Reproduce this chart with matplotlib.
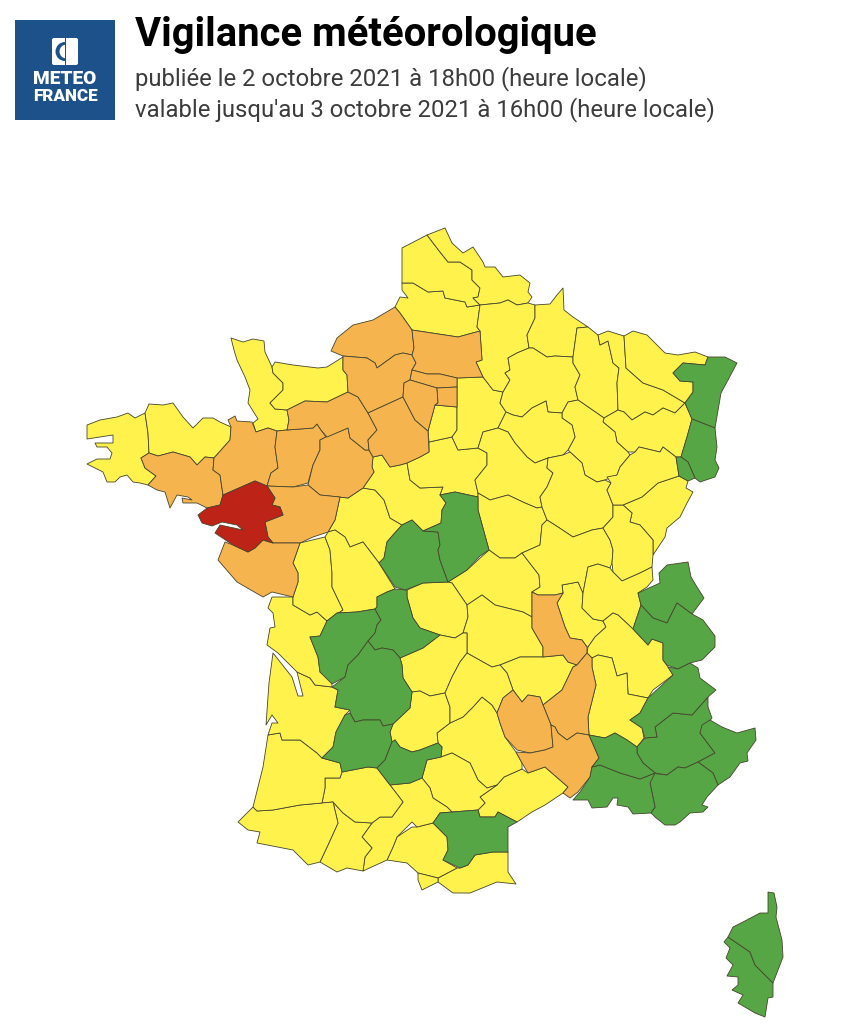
import matplotlib
matplotlib.use("Agg")
import matplotlib.pyplot as plt
from matplotlib.patches import Polygon, Rectangle, FancyBboxPatch, Wedge, Circle

# ---- text ----
TITLE = "Vigilance météorologique"
LINE1 = "publiée le 2 octobre 2021 à 18h00 (heure locale)"
LINE2 = "valable jusqu'au 3 octobre 2021 à 16h00 (heure locale)"
LOGO1 = "METEO"
LOGO2 = "FRANCE"

# ---- vigilance levels ----
LEVEL_COLOURS = {"vert": "#56A646", "jaune": "#FFF24D", "orange": "#F6B44F", "rouge": "#BE2318"}

# ---- department outlines (map coordinates) ----
d29 = [(87,425),(100,420),(117,417),(128,413),(135,418),(145,413),(148,433),(149,453),(141,458),(145,468),(156,476),(148,485),(140,483),(133,482),(127,475),(120,477),(115,482),(107,482),(103,472),(87,464),(97,459),(110,459),(112,453),(107,447),(97,447),(95,443),(113,443),(113,435),(87,439)]
d22 = [(145,413),(149,404),(163,405),(173,403),(183,417),(193,428),(203,418),(213,418),(220,422),(231,427),(230,440),(214,458),(205,457),(197,465),(190,457),(173,452),(158,456),(149,453),(148,433)]
d56 = [(141,458),(149,453),(158,456),(173,452),(190,457),(197,465),(205,457),(214,458),(213,470),(220,475),(223,495),(220,505),(207,508),(197,503),(183,503),(182,498),(192,500),(188,497),(177,495),(170,508),(165,492),(157,490),(148,485),(156,476),(145,468)]
d35 = [(214,458),(230,440),(231,427),(228,420),(235,416),(237,421),(252,422),(256,432),(268,428),(277,431),(275,447),(278,468),(271,473),(267,486),(255,481),(223,495),(220,475),(213,470)]
d50 = [(231,338),(243,342),(253,339),(264,341),(265,352),(272,367),(273,373),(283,383),(283,390),(270,403),(275,409),(287,410),(289,420),(287,430),(277,431),(268,428),(256,432),(253,423),(258,419),(248,403),(250,390),(245,377),(237,360),(234,350)]
d14 = [(272,367),(275,362),(293,365),(318,368),(327,367),(343,357),(343,370),(347,375),(348,392),(327,402),(305,401),(287,410),(275,409),(270,403),(283,390),(283,383),(273,373)]
d61 = [(287,410),(305,401),(327,402),(348,392),(358,397),(368,413),(377,430),(368,440),(369,450),(365,450),(350,438),(348,428),(327,437),(321,430),(317,424),(313,428),(287,430),(289,420)]
d53 = [(277,431),(287,430),(313,428),(317,424),(321,430),(326,437),(320,440),(320,450),(313,465),(308,483),(293,487),(267,486),(271,473),(278,468),(275,447)]
d72 = [(326,437),(348,428),(350,438),(365,450),(369,450),(373,457),(372,467),(374,472),(363,488),(348,498),(320,495),(308,485),(313,465),(320,450),(320,440)]
d44 = [(198,515),(207,508),(220,505),(223,495),(255,481),(267,486),(275,498),(272,505),(280,507),(283,515),(265,522),(268,537),(273,543),(263,540),(255,548),(248,552),(233,545),(215,533),(220,525),(243,530),(237,525),(222,522),(212,526),(202,523)]
d49 = [(267,486),(293,487),(308,485),(320,495),(340,497),(335,520),(328,532),(313,537),(300,543),(273,543),(268,537),(265,522),(283,515),(280,507),(272,505),(275,498)]
d37 = [(340,497),(348,498),(363,488),(375,490),(384,500),(390,518),(402,525),(393,535),(387,542),(384,558),(379,563),(363,542),(350,547),(345,537),(335,530),(328,532),(335,520)]
d41 = [(373,457),(382,455),(390,467),(400,465),(407,463),(410,480),(420,488),(443,487),(440,495),(446,503),(442,510),(441,523),(423,531),(412,520),(402,525),(390,518),(384,500),(375,490),(363,488),(374,472),(372,467)]
d28 = [(373,457),(369,450),(368,440),(377,430),(368,413),(403,397),(415,420),(428,431),(429,452),(420,457),(407,463),(400,465),(390,467),(382,455)]
d36 = [(402,525),(412,520),(423,531),(438,532),(440,545),(438,550),(440,560),(448,582),(423,583),(405,590),(395,587),(379,563),(384,558),(387,542),(393,535)]
d18 = [(440,495),(455,492),(478,497),(478,510),(489,550),(480,556),(467,570),(448,582),(440,560),(438,550),(440,545),(438,532),(423,531),(441,523),(442,510),(446,503)]
d45 = [(407,463),(420,457),(429,452),(429,442),(452,437),(458,450),(478,448),(487,453),(487,465),(475,480),(478,493),(478,497),(455,492),(440,495),(443,487),(420,488),(410,480)]
d91 = [(428,431),(435,405),(457,407),(457,430),(452,437),(429,442)]
d77 = [(457,378),(483,377),(493,390),(503,392),(500,403),(506,412),(498,428),(483,432),(478,448),(458,450),(452,437),(457,430),(457,407),(457,387)]
d60 = [(412,330),(458,337),(480,331),(482,360),(476,362),(483,377),(457,378),(440,374),(427,374),(412,370),(416,363),(412,355),(414,348)]
d95 = [(412,370),(410,380),(437,388),(457,387),(457,378),(440,374),(427,374)]
d78 = [(404,383),(410,380),(437,388),(438,403),(435,405),(428,431),(415,420),(403,397)]
d75 = [(437,388),(457,387),(457,407),(435,405),(438,403)]
d27 = [(343,356),(367,358),(375,363),(377,368),(395,355),(403,353),(412,355),(416,363),(412,370),(410,380),(404,383),(403,397),(368,413),(358,397),(348,392),(347,375),(343,370)]
d76 = [(331,351),(337,338),(353,325),(373,320),(395,307),(400,313),(412,330),(414,348),(412,355),(403,353),(395,355),(377,368),(375,363),(367,358),(343,356)]
d80 = [(402,283),(413,283),(428,292),(443,291),(445,298),(465,302),(467,307),(480,305),(477,327),(480,331),(458,337),(412,330),(400,313),(395,307),(400,297),(408,298),(402,290)]
d62 = [(402,248),(427,235),(440,252),(448,262),(460,262),(472,270),(472,280),(480,288),(478,297),(473,298),(480,305),(467,307),(465,302),(445,298),(443,291),(428,292),(413,283),(402,283)]
d59 = [(427,235),(445,228),(452,243),(463,253),(473,247),(483,262),(485,267),(495,267),(503,277),(520,275),(530,283),(528,292),(532,297),(528,303),(517,305),(508,300),(500,303),(480,305),(473,298),(478,297),(480,288),(472,280),(472,270),(460,262),(448,262),(440,252)]
d02 = [(480,305),(500,303),(508,300),(517,305),(528,303),(535,305),(535,318),(527,335),(529,348),(517,353),(508,358),(510,370),(505,373),(510,380),(503,392),(493,390),(483,377),(476,362),(482,360),(480,331),(477,327)]
d08 = [(535,305),(550,304),(557,295),(563,288),(564,310),(573,317),(588,327),(577,328),(573,357),(555,356),(547,357),(533,348),(529,348),(527,335),(535,318)]
d51 = [(529,348),(533,348),(547,357),(555,356),(573,357),(573,363),(580,375),(575,387),(578,400),(568,402),(562,413),(548,412),(546,401),(532,408),(522,417),(513,415),(506,412),(500,403),(503,392),(510,380),(505,373),(510,370),(508,358),(517,353)]
d55 = [(577,328),(588,327),(598,335),(600,345),(608,341),(613,363),(619,368),(617,383),(618,410),(604,418),(578,400),(575,387),(580,375),(573,363),(573,357)]
d54 = [(598,335),(608,331),(624,336),(626,368),(643,383),(663,390),(685,403),(675,413),(663,408),(653,415),(645,412),(632,420),(624,412),(618,410),(617,383),(619,368),(613,363),(608,341),(600,345)]
d57 = [(624,336),(633,331),(647,335),(665,353),(678,355),(695,352),(708,357),(705,365),(683,363),(673,373),(680,381),(693,382),(693,392),(685,403),(663,390),(643,383),(626,368)]
d67 = [(708,357),(725,357),(737,363),(728,380),(721,393),(715,428),(692,419),(685,403),(693,392),(693,382),(680,381),(673,373),(683,363),(705,365)]
d68 = [(692,419),(715,428),(717,447),(715,460),(719,468),(715,477),(700,482),(695,478),(688,462),(681,457),(687,437)]
d90 = [(676,457),(681,457),(688,462),(695,478),(688,481),(679,476)]
d88 = [(604,418),(618,410),(624,412),(632,420),(645,412),(653,415),(663,408),(675,413),(685,403),(692,419),(687,437),(681,457),(676,457),(663,447),(660,452),(639,447),(635,452),(628,452),(617,442),(615,432),(603,422)]
d52 = [(578,400),(604,418),(603,422),(615,432),(617,442),(628,452),(630,455),(620,467),(617,475),(605,480),(597,482),(585,475),(582,463),(570,452),(568,450),(575,437),(572,425),(562,418),(562,413),(568,402)]
d10 = [(506,412),(513,415),(522,417),(532,408),(546,401),(548,412),(562,413),(562,418),(572,425),(575,437),(568,450),(563,455),(548,458),(535,463),(527,457),(515,443),(508,432),(498,428)]
d89 = [(483,432),(498,428),(508,432),(515,443),(527,457),(535,463),(548,458),(547,468),(553,473),(547,487),(540,497),(542,507),(537,508),(525,503),(508,495),(490,500),(478,493),(475,480),(487,465),(487,453),(478,448)]
d58 = [(478,493),(490,500),(508,495),(525,503),(537,508),(542,507),(547,520),(542,525),(540,545),(522,553),(515,558),(500,558),(489,550),(478,510),(478,497)]
d03 = [(448,582),(467,570),(489,550),(500,558),(515,558),(522,553),(539,575),(540,587),(532,592),(532,617),(523,612),(507,608),(495,605),(482,595),(467,605),(452,583)]
d23 = [(407,590),(423,583),(448,582),(452,583),(467,605),(468,617),(463,633),(455,638),(440,635),(420,628),(413,618),(407,597)]
d63 = [(467,605),(482,595),(495,605),(507,608),(523,612),(532,617),(532,628),(543,647),(543,657),(520,657),(500,665),(492,667),(483,662),(467,653),(467,633),(463,633),(468,617)]
d42 = [(532,592),(538,595),(555,595),(563,593),(557,603),(565,627),(570,638),(582,640),(587,647),(587,653),(577,665),(568,662),(563,655),(543,657),(543,647),(532,628)]
d69 = [(562,585),(578,582),(583,593),(582,608),(593,619),(603,621),(606,627),(595,637),(588,647),(587,647),(582,640),(570,638),(565,627),(557,603),(563,593)]
d21 = [(548,458),(563,455),(570,452),(582,463),(585,475),(597,482),(605,480),(611,483),(607,490),(613,505),(613,517),(603,528),(592,530),(573,537),(558,527),(547,520),(542,507),(540,497),(547,487),(553,473),(547,468)]
d71 = [(542,525),(547,520),(558,527),(573,537),(592,530),(603,528),(610,540),(613,550),(612,563),(610,568),(598,564),(588,567),(583,593),(578,582),(562,585),(563,593),(555,595),(538,595),(532,592),(540,587),(539,575),(522,553),(540,545)]
d25 = [(623,505),(642,497),(658,483),(679,476),(688,481),(686,488),(693,492),(687,503),(680,517),(667,528),(665,537),(653,555),(653,540),(640,525),(630,522),(632,513)]
d39 = [(613,505),(623,505),(632,513),(630,522),(640,525),(653,540),(653,555),(652,567),(640,573),(622,581),(613,572),(612,563),(613,550),(610,540),(603,528),(613,517)]
d70 = [(607,477),(617,475),(620,467),(630,455),(635,452),(639,447),(660,452),(663,447),(676,457),(679,476),(658,483),(642,497),(623,505),(613,505),(607,490),(611,483)]
d01 = [(588,567),(598,564),(610,568),(613,572),(622,581),(640,573),(652,567),(653,580),(647,587),(638,593),(641,605),(633,629),(618,615),(613,613),(603,621),(593,619),(582,608),(583,593)]
d74 = [(638,593),(660,583),(659,573),(667,565),(688,562),(691,577),(697,587),(704,598),(692,614),(677,603),(667,623),(653,618),(641,605)]
d73 = [(641,605),(653,618),(667,623),(677,603),(692,614),(703,620),(715,636),(715,647),(702,660),(690,663),(678,669),(667,665),(663,660),(663,643),(652,639),(648,645),(633,629)]
d38 = [(588,647),(595,637),(606,627),(603,621),(613,613),(618,615),(633,629),(648,645),(652,639),(663,643),(663,660),(668,667),(673,675),(653,690),(648,698),(628,694),(627,673),(617,676),(612,658),(598,655),(592,658),(587,653)]
d26 = [(592,658),(598,655),(612,658),(617,676),(627,673),(628,694),(648,698),(640,713),(630,720),(642,728),(644,738),(637,747),(627,740),(615,733),(605,738),(589,735),(588,717),(596,685),(592,667)]
d07 = [(587,653),(592,658),(592,667),(596,685),(588,717),(589,735),(577,733),(567,740),(558,733),(555,727),(551,725),(543,705),(562,690),(573,667),(577,665)]
d43 = [(500,665),(520,657),(543,657),(563,655),(568,662),(577,665),(573,667),(562,690),(543,705),(540,697),(528,695),(522,702),(513,690),(507,673)]
d48 = [(497,713),(503,698),(513,690),(522,702),(528,695),(540,697),(543,705),(551,725),(553,747),(545,750),(530,753),(517,750),(505,737),(500,723)]
d30 = [(551,725),(555,727),(558,733),(567,740),(577,733),(589,735),(599,758),(592,767),(590,777),(578,792),(570,798),(563,793),(568,787),(545,767),(528,773),(522,763),(516,752),(530,753),(545,750),(553,747)]
d34 = [(480,797),(497,785),(504,777),(522,769),(528,773),(545,767),(568,787),(563,793),(545,805),(532,812),(517,822),(498,812),(495,817),(480,817),(478,810),(485,803)]
d12 = [(437,733),(450,723),(463,717),(473,707),(482,697),(492,705),(497,713),(500,723),(505,737),(516,752),(522,763),(522,769),(504,777),(497,785),(487,788),(478,780),(470,763),(452,753),(441,757),(442,747),(438,743)]
d81 = [(427,760),(441,757),(452,753),(470,763),(478,780),(487,788),(497,785),(480,797),(485,803),(478,810),(452,812),(447,807),(433,798),(430,788),(422,778)]
d11 = [(433,823),(440,813),(478,810),(480,817),(495,817),(498,812),(517,822),(508,827),(508,852),(493,852),(475,855),(468,865),(460,868),(443,860),(448,850),(447,837)]
d66 = [(438,878),(457,868),(460,868),(468,865),(475,855),(493,852),(508,852),(508,872),(516,884),(497,882),(470,893),(453,893),(438,882)]
d09 = [(387,860),(393,847),(397,837),(412,827),(417,827),(433,823),(447,837),(448,850),(443,860),(457,868),(438,878),(418,873),(407,863)]
dAD = [(418,873),(438,878),(438,882),(422,890),(418,880)]
d31 = [(390,785),(410,783),(422,778),(430,788),(433,798),(447,807),(452,812),(440,813),(433,823),(417,827),(412,822),(397,837),(393,847),(387,860),(363,871),(365,857),(372,848),(362,837),(372,823),(380,817),(392,817),(403,802)]
d65 = [(333,802),(343,813),(355,822),(372,823),(362,837),(372,848),(365,857),(363,871),(347,868),(337,872),(320,862),(328,845),(338,823)]
d32 = [(325,778),(340,778),(342,772),(368,767),(377,768),(390,785),(403,802),(392,817),(380,817),(372,823),(355,822),(343,813),(333,802),(322,803),(325,788)]
d64 = [(238,822),(253,807),(257,811),(273,810),(300,805),(322,803),(333,802),(338,823),(328,845),(320,862),(308,865),(293,850),(257,843),(260,832),(248,830)]
d40 = [(268,735),(280,733),(282,740),(300,740),(317,753),(322,758),(340,763),(342,772),(340,778),(325,778),(325,788),(322,803),(300,805),(273,810),(257,811),(253,807),(263,767)]
d33 = [(273,653),(292,677),(298,696),(303,696),(297,672),(310,678),(315,685),(332,687),(338,690),(335,707),(350,710),(345,715),(336,732),(333,747),(322,758),(317,753),(300,740),(282,740),(280,733),(268,735),(272,723),(278,723),(272,715),(266,725),(269,683)]
d17 = [(272,597),(293,597),(293,605),(310,615),(317,612),(327,621),(320,636),(310,637),(318,657),(320,672),(332,682),(332,687),(315,685),(310,678),(297,672),(278,653),(267,645),(270,628),(275,627),(273,613),(268,608)]
d16 = [(327,621),(337,613),(357,612),(375,609),(381,620),(377,625),(375,633),(368,641),(358,655),(348,665),(345,677),(332,684),(320,672),(318,657),(310,637),(320,636)]
d79 = [(300,543),(325,537),(330,550),(332,573),(332,587),(343,610),(327,621),(317,612),(310,615),(293,605),(293,597),(298,582),(298,573),(293,563)]
d85 = [(225,542),(233,545),(248,552),(255,548),(263,540),(273,543),(300,543),(293,563),(298,573),(298,582),(293,597),(272,592),(263,597),(237,582),(218,560)]
d86 = [(325,537),(328,532),(335,530),(345,537),(350,547),(363,542),(379,563),(395,589),(387,592),(377,597),(377,607),(375,609),(357,612),(337,613),(327,621),(343,610),(332,587),(332,573),(330,550)]
d87 = [(377,607),(377,597),(387,592),(395,589),(407,590),(407,597),(413,618),(420,628),(440,635),(423,648),(400,658),(393,650),(382,648),(375,650),(368,641),(375,633),(377,625),(381,620),(375,609)]
d19 = [(400,658),(423,648),(440,635),(455,638),(463,633),(467,633),(467,653),(460,662),(452,677),(445,693),(430,696),(420,691),(412,692),(403,678),(402,665)]
d24 = [(332,687),(345,677),(348,665),(358,655),(368,641),(375,650),(382,648),(393,650),(400,658),(402,665),(403,678),(412,692),(410,708),(393,724),(383,726),(380,720),(363,720),(355,722),(350,713),(350,710),(335,707),(338,690)]
d47 = [(350,713),(355,722),(363,720),(380,720),(383,726),(393,724),(390,732),(392,742),(385,760),(377,768),(368,767),(342,772),(340,763),(322,758),(333,747),(336,732),(345,715)]
d46 = [(412,692),(420,691),(430,696),(445,693),(450,707),(450,723),(437,733),(438,743),(420,750),(412,752),(400,747),(395,740),(392,742),(390,732),(393,724),(410,708)]
d82 = [(392,742),(395,740),(400,747),(412,752),(420,750),(438,743),(442,747),(441,757),(427,760),(422,778),(410,783),(390,785),(377,768),(385,760)]
d15 = [(467,653),(483,662),(492,667),(500,665),(507,673),(513,690),(503,698),(497,713),(492,705),(482,697),(473,707),(463,717),(450,723),(450,707),(445,693),(452,677),(460,662)]
d83 = [(650,773),(667,775),(678,767),(685,768),(698,762),(713,773),(718,785),(707,797),(702,805),(708,807),(703,812),(690,813),(680,822),(675,825),(665,825),(655,817),(651,813),(655,807),(650,783)]
d13 = [(592,767),(600,765),(620,773),(640,779),(655,773),(650,783),(655,807),(651,813),(633,814),(628,807),(617,805),(618,798),(613,798),(607,807),(592,808),(588,800),(573,800),(580,792),(590,777)]
d84 = [(589,735),(605,738),(615,733),(627,740),(637,747),(637,753),(643,763),(655,773),(640,779),(620,773),(600,765),(592,767),(599,758)]
d04 = [(637,747),(645,738),(657,737),(655,727),(673,713),(692,715),(708,697),(708,707),(712,718),(700,733),(715,753),(698,762),(685,768),(678,767),(667,775),(655,773),(643,763),(637,753)]
d05 = [(630,720),(640,713),(648,698),(673,675),(668,667),(678,669),(690,663),(698,668),(700,678),(716,690),(708,697),(692,715),(673,713),(655,727),(657,737),(645,738),(642,728)]
d06 = [(710,720),(722,727),(737,733),(755,728),(756,740),(747,753),(748,761),(740,763),(730,777),(718,785),(713,773),(698,762),(715,753),(700,733),(702,725)]
d2B = [(768,892),(774,893),(777,907),(776,917),(782,940),(783,957),(773,983),(755,965),(750,952),(728,937),(733,927),(743,922),(760,913),(768,913),(768,900)]
d2A = [(728,937),(750,952),(755,965),(773,983),(773,997),(768,998),(765,1017),(755,1013),(738,1003),(743,995),(732,990),(738,985),(738,977),(727,976),(733,965),(726,958),(730,948),(724,942)]

VERT = [d67, d68, d90, d74, d73, d04, d05, d06, d83, d13, d84, d11, d16, d87, d24, d47, d82, d36, d18, d2A, d2B]
ORANGE = [d56, d35, d53, d72, d61, d49, d85, d76, d27, d28, d60, d95, d78, d75, d42, d07, d48, d30]
ROUGE = [d44]
JAUNE = [d29, d22, d50, d14, d37, d41, d45, d91, d77, d80, d62, d59, d02, d08, d51, d55, d54, d57, d88, d52, d10,
         d89, d58, d03, d23, d63, d69, d21, d71, d25, d39, d70, d01, d38, d26, d43, d34, d12, d81, d66, d09, dAD,
         d31, d65, d32, d64, d40, d33, d17, d79, d86, d19, d46, d15]

fig = plt.figure(figsize=(8.58, 10.26), dpi=100, facecolor="white")
ax = fig.add_axes([0, 0, 1, 1])
ax.set_xlim(0, 858)
ax.set_ylim(1026, 0)
ax.axis("off")

for name, group in [("jaune", JAUNE), ("orange", ORANGE), ("vert", VERT), ("rouge", ROUGE)]:
    for outline in group:
        ax.add_patch(Polygon(outline, closed=True, facecolor=LEVEL_COLOURS[name],
                             edgecolor="#45452c", linewidth=0.6, joinstyle="round"))

# header text
ax.text(135, 35, TITLE, family="Roboto", weight="bold", fontsize=28.8, color="black", va="center", ha="left")
ax.text(135, 79, LINE1, family="Roboto", fontsize=17.2, color="#3c3c3c", va="center", ha="left")
ax.text(135, 110, LINE2, family="Roboto", fontsize=17.2, color="#3c3c3c", va="center", ha="left")

# logo
BLUE = "#1C5189"
ax.add_patch(Rectangle((15, 20), 100, 100, facecolor=BLUE, edgecolor="none"))
ax.add_patch(FancyBboxPatch((52, 38), 26, 27, boxstyle="round,pad=0,rounding_size=2", facecolor="white", edgecolor="none"))
ax.add_patch(Circle((65, 51.5), 9.5, facecolor=BLUE, edgecolor="none"))
ax.add_patch(Circle((66.5, 51.5), 7, facecolor="white", edgecolor="none"))
ax.add_patch(Wedge((65, 51.5), 10, -85, 85, facecolor="white", edgecolor="none"))
ax.add_patch(Rectangle((64.5, 38), 1.2, 27, facecolor=BLUE, edgecolor="none"))
ax.text(65, 79, LOGO1, family="Roboto", weight="black", fontsize=13.8, color="white", va="center", ha="center")
ax.text(65, 96, LOGO2, family="Roboto", weight="black", fontsize=12.3, color="white", va="center", ha="center")

fig.savefig("out.png", dpi=100, facecolor="white")
